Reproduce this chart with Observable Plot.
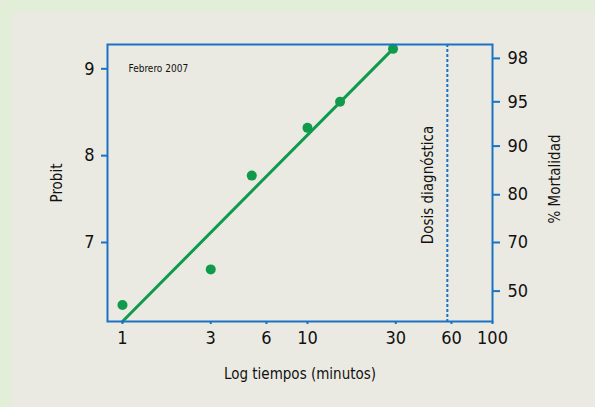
<!DOCTYPE html>
<html>
<head>
<meta charset="utf-8">
<script src="https://cdn.jsdelivr.net/npm/d3@7"></script>
<script src="https://cdn.jsdelivr.net/npm/@observablehq/plot@0.6"></script>
<style>
  html, body { margin: 0; padding: 0; }
  #wrap { position: relative; width: 595px; height: 407px; background: #e2eed7; overflow: hidden; }
  #panel { position: absolute; left: 12px; top: 12px; width: 583px; height: 395px; background: #ebeae2; }
  #chart { position: absolute; left: 0; top: 0; }
  #chart svg { font-family: "DejaVu Sans Condensed", "DejaVu Sans", sans-serif; }
</style>
</head>
<body>
<div id="wrap"><div id="panel"></div><div id="chart"></div></div>
<script>
// Observed data
const times = [1, 3, 5, 10, 15, 29];            // minutes
const probits = [6.28, 6.69, 7.77, 8.32, 8.62, 9.23];
// Fitted regression line (end points)
const fitTimes = [1, 29];
const fitProbits = [6.09, 9.23];
// Axis ticks
const xTicks = [1, 3, 6, 10, 30, 60, 100];
const probitTicks = [7, 8, 9];
const mortLabels = [50, 70, 80, 90, 95, 98];
const mortProbitPos = [6.44, 7.00, 7.55, 8.11, 8.62, 9.12];
const diagDose = [57];
const stampText = ["Febrero 2007"];

const blue = "#1b72c4";
const green = "#0f9a4c";

const points = times.map((t, i) => ({t, p: probits[i]}));
const fit = fitTimes.map((t, i) => ({t, p: fitProbits[i]}));
const mortMap = new Map(mortProbitPos.map((p, i) => [p, String(mortLabels[i])]));

const chart = Plot.plot({
  width: 595,
  height: 407,
  marginLeft: 107,
  marginRight: 103,
  marginTop: 44,
  marginBottom: 86,
  style: {background: "transparent", color: "#111", fontSize: "15px"},
  x: {type: "log", domain: [0.83, 100]},
  y: {domain: [6.09, 9.28]},
  marks: [
    Plot.ruleX(diagDose, {x: d => d, stroke: blue, strokeWidth: 2, strokeDasharray: "3,2"}),
    Plot.line(fit, {x: "t", y: "p", stroke: green, strokeWidth: 3}),
    Plot.dot(points, {x: "t", y: "p", r: 5, fill: green}),
    Plot.frame({stroke: blue, strokeWidth: 2}),
    Plot.axisY({ticks: probitTicks, anchor: "left", tickSize: 6, tickPadding: 7, stroke: blue, strokeWidth: 2, fontSize: 18, label: null, tickFormat: d => String(d)}),
    Plot.axisY({ticks: mortProbitPos, anchor: "right", tickSize: 7, tickPadding: 8, stroke: blue, strokeWidth: 2, fontSize: 18, label: null, tickFormat: d => mortMap.get(d)}),
    Plot.axisX({ticks: xTicks, anchor: "bottom", tickSize: 3, stroke: blue, strokeWidth: 2, text: null, label: null}),
    Plot.text(xTicks, {x: d => d, text: d => String(d), frameAnchor: "bottom", lineAnchor: "top", dy: 10, fontSize: 18, fill: "#111"}),
    Plot.text(["Probit"], {text: d => d, frameAnchor: "left", textAnchor: "middle", dx: -50, rotate: -90, fontSize: 15, fill: "#111"}),
    Plot.text(["% Mortalidad"], {text: d => d, frameAnchor: "right", textAnchor: "middle", dx: 63, dy: -4, rotate: -90, fontSize: 15, fill: "#111"}),
    Plot.text(["Log tiempos (minutos)"], {text: d => d, frameAnchor: "bottom", dy: 57, fontSize: 15, fill: "#111"}),
    Plot.text(diagDose, {x: d => d, text: () => "Dosis diagnóstica", frameAnchor: "middle", textAnchor: "middle", dx: -19, dy: 2, rotate: -90, fontSize: 15, fill: "#111"}),
    Plot.text(stampText, {text: d => d, frameAnchor: "top-left", dx: 21, dy: 20, textAnchor: "start", fontSize: 10, fill: "#111"})
  ]
});
document.getElementById("chart").appendChild(chart);
</script>
</body>
</html>
